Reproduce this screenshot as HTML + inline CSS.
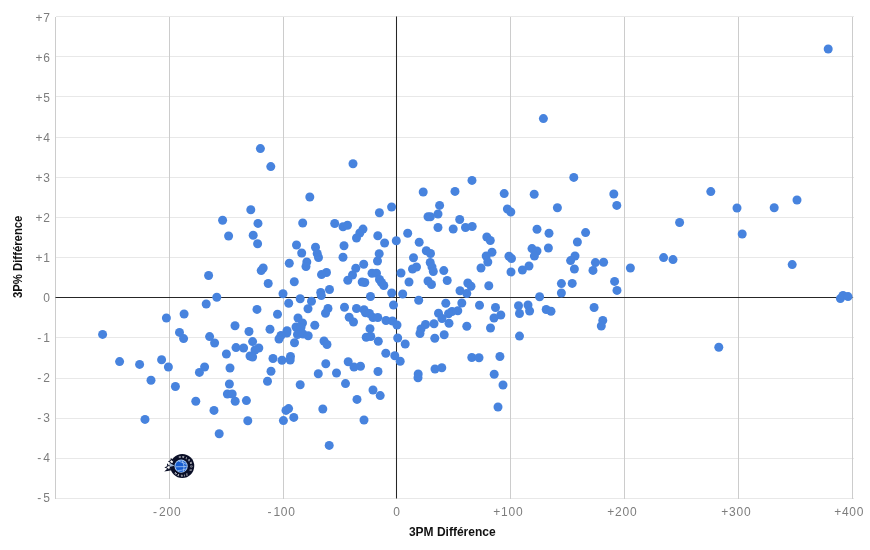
<!DOCTYPE html>
<html lang="fr"><head><meta charset="utf-8"><title>3PM Différence / 3P% Différence</title>
<style>html,body{margin:0;padding:0;background:#fff;}body{width:870px;height:550px;overflow:hidden;font-family:"Liberation Sans",sans-serif;}svg{display:block;}.tick{font-family:"Liberation Sans",sans-serif;font-size:12px;fill:#7d7d7d;}.ttl{font-family:"Liberation Sans",sans-serif;font-size:12px;font-weight:bold;fill:#111;}.lg{font-family:"Liberation Sans",sans-serif;font-weight:bold;fill:#fff;}</style></head><body>
<svg width="870" height="550" viewBox="0 0 870 550">
<rect width="870" height="550" fill="#fff"/>
<g stroke="#e8e8e8" stroke-width="1" shape-rendering="crispEdges">
<line x1="55.5" y1="498.5" x2="853.5" y2="498.5"/>
<line x1="55.5" y1="458.5" x2="853.5" y2="458.5"/>
<line x1="55.5" y1="418.5" x2="853.5" y2="418.5"/>
<line x1="55.5" y1="378.5" x2="853.5" y2="378.5"/>
<line x1="55.5" y1="337.5" x2="853.5" y2="337.5"/>
<line x1="55.5" y1="297.5" x2="853.5" y2="297.5"/>
<line x1="55.5" y1="257.5" x2="853.5" y2="257.5"/>
<line x1="55.5" y1="217.5" x2="853.5" y2="217.5"/>
<line x1="55.5" y1="177.5" x2="853.5" y2="177.5"/>
<line x1="55.5" y1="137.5" x2="853.5" y2="137.5"/>
<line x1="55.5" y1="96.5" x2="853.5" y2="96.5"/>
<line x1="55.5" y1="56.5" x2="853.5" y2="56.5"/>
<line x1="55.5" y1="16.5" x2="853.5" y2="16.5"/>
</g>
<g stroke="#cccccc" stroke-width="1" shape-rendering="crispEdges">
<line x1="169.5" y1="16.5" x2="169.5" y2="498.5"/>
<line x1="283.5" y1="16.5" x2="283.5" y2="498.5"/>
<line x1="510.5" y1="16.5" x2="510.5" y2="498.5"/>
<line x1="624.5" y1="16.5" x2="624.5" y2="498.5"/>
<line x1="738.5" y1="16.5" x2="738.5" y2="498.5"/>
<line x1="852.5" y1="16.5" x2="852.5" y2="498.5"/>
<line x1="55.5" y1="16.5" x2="55.5" y2="498.5"/>
</g>
<g stroke="#262626" stroke-width="1.05">
<line x1="55.5" y1="297.5" x2="852.5" y2="297.5"/>
<line x1="396.5" y1="16.5" x2="396.5" y2="498.5"/>
</g>
<g class="tick" text-anchor="end" style="letter-spacing:0.75px">
<text x="50.7" y="501.8">-<tspan dx="1.3">5</tspan></text>
<text x="50.7" y="461.8">-<tspan dx="1.3">4</tspan></text>
<text x="50.7" y="421.8">-<tspan dx="1.3">3</tspan></text>
<text x="50.7" y="381.8">-<tspan dx="1.3">2</tspan></text>
<text x="50.7" y="341.8">-<tspan dx="1.3">1</tspan></text>
<text x="50.7" y="301.8">0</text>
<text x="50.7" y="261.8">+1</text>
<text x="50.7" y="221.8">+2</text>
<text x="50.7" y="181.8">+3</text>
<text x="50.7" y="141.8">+4</text>
<text x="50.7" y="101.8">+5</text>
<text x="50.7" y="61.8">+6</text>
<text x="50.7" y="21.8">+7</text>
</g>
<g class="tick" style="letter-spacing:0.75px">
<text x="493.3" y="516">+100</text>
<text x="607.3" y="516">+200</text>
<text x="721.3" y="516">+300</text>
<text x="834.2" y="516">+400</text>
<text x="153.0" y="516">-<tspan dx="1.3">200</tspan></text>
<text x="267.4" y="516">-<tspan dx="1.3">100</tspan></text>
<text x="393.2" y="516">0</text>
</g>
<text class="ttl" text-anchor="middle" x="452.3" y="535.5">3PM Différence</text>
<text class="ttl" transform="translate(22.2,298) rotate(-90)" textLength="82.4" lengthAdjust="spacingAndGlyphs">3P% Différence</text>
<g fill="#4783de">
<circle cx="260.4" cy="148.6" r="4.50"/>
<circle cx="270.8" cy="166.6" r="4.50"/>
<circle cx="309.8" cy="197.0" r="4.50"/>
<circle cx="250.8" cy="209.8" r="4.50"/>
<circle cx="222.6" cy="220.3" r="4.50"/>
<circle cx="353.0" cy="163.8" r="4.50"/>
<circle cx="472.0" cy="180.4" r="4.50"/>
<circle cx="423.2" cy="192.0" r="4.50"/>
<circle cx="455.0" cy="191.4" r="4.50"/>
<circle cx="504.2" cy="193.6" r="4.50"/>
<circle cx="391.6" cy="207.0" r="4.50"/>
<circle cx="379.4" cy="212.8" r="4.50"/>
<circle cx="439.6" cy="205.4" r="4.50"/>
<circle cx="438.0" cy="214.0" r="4.50"/>
<circle cx="428.0" cy="216.7" r="4.50"/>
<circle cx="430.4" cy="216.7" r="4.50"/>
<circle cx="459.7" cy="219.5" r="4.50"/>
<circle cx="507.4" cy="209.0" r="4.50"/>
<circle cx="510.8" cy="212.0" r="4.50"/>
<circle cx="543.4" cy="118.6" r="4.50"/>
<circle cx="573.8" cy="177.4" r="4.50"/>
<circle cx="534.2" cy="194.2" r="4.50"/>
<circle cx="613.8" cy="194.0" r="4.50"/>
<circle cx="557.4" cy="207.8" r="4.50"/>
<circle cx="616.8" cy="205.4" r="4.50"/>
<circle cx="679.6" cy="222.5" r="4.50"/>
<circle cx="710.8" cy="191.6" r="4.50"/>
<circle cx="737.0" cy="208.0" r="4.50"/>
<circle cx="774.2" cy="207.8" r="4.50"/>
<circle cx="797.0" cy="200.0" r="4.50"/>
<circle cx="828.2" cy="49.0" r="4.50"/>
<circle cx="258.0" cy="223.4" r="4.50"/>
<circle cx="228.6" cy="236.0" r="4.50"/>
<circle cx="253.2" cy="235.2" r="4.50"/>
<circle cx="257.6" cy="243.8" r="4.50"/>
<circle cx="208.6" cy="275.5" r="4.50"/>
<circle cx="216.8" cy="297.3" r="4.50"/>
<circle cx="206.2" cy="304.0" r="4.50"/>
<circle cx="257.0" cy="309.4" r="4.50"/>
<circle cx="184.1" cy="314.0" r="4.50"/>
<circle cx="235.0" cy="325.8" r="4.50"/>
<circle cx="249.0" cy="331.5" r="4.50"/>
<circle cx="179.5" cy="332.4" r="4.50"/>
<circle cx="263.2" cy="268.0" r="4.50"/>
<circle cx="261.2" cy="270.6" r="4.50"/>
<circle cx="302.7" cy="223.0" r="4.50"/>
<circle cx="334.7" cy="223.5" r="4.50"/>
<circle cx="343.0" cy="226.8" r="4.50"/>
<circle cx="347.5" cy="225.3" r="4.50"/>
<circle cx="296.5" cy="245.0" r="4.50"/>
<circle cx="301.7" cy="253.0" r="4.50"/>
<circle cx="315.5" cy="247.2" r="4.50"/>
<circle cx="317.2" cy="253.5" r="4.50"/>
<circle cx="318.5" cy="257.5" r="4.50"/>
<circle cx="344.0" cy="245.8" r="4.50"/>
<circle cx="343.0" cy="257.3" r="4.50"/>
<circle cx="289.3" cy="263.3" r="4.50"/>
<circle cx="306.8" cy="262.0" r="4.50"/>
<circle cx="306.0" cy="266.5" r="4.50"/>
<circle cx="326.5" cy="272.5" r="4.50"/>
<circle cx="321.5" cy="274.6" r="4.50"/>
<circle cx="363.0" cy="229.1" r="4.50"/>
<circle cx="359.8" cy="233.0" r="4.50"/>
<circle cx="356.5" cy="238.0" r="4.50"/>
<circle cx="377.8" cy="235.7" r="4.50"/>
<circle cx="384.6" cy="243.0" r="4.50"/>
<circle cx="396.3" cy="240.7" r="4.50"/>
<circle cx="407.7" cy="233.2" r="4.50"/>
<circle cx="419.2" cy="242.2" r="4.50"/>
<circle cx="426.3" cy="250.8" r="4.50"/>
<circle cx="430.5" cy="253.5" r="4.50"/>
<circle cx="413.5" cy="257.7" r="4.50"/>
<circle cx="379.2" cy="253.7" r="4.50"/>
<circle cx="377.5" cy="261.0" r="4.50"/>
<circle cx="363.7" cy="264.3" r="4.50"/>
<circle cx="355.8" cy="268.3" r="4.50"/>
<circle cx="352.5" cy="275.0" r="4.50"/>
<circle cx="372.0" cy="273.3" r="4.50"/>
<circle cx="376.5" cy="273.2" r="4.50"/>
<circle cx="401.0" cy="273.0" r="4.50"/>
<circle cx="416.5" cy="267.0" r="4.50"/>
<circle cx="412.5" cy="269.0" r="4.50"/>
<circle cx="430.2" cy="262.5" r="4.50"/>
<circle cx="432.0" cy="267.0" r="4.50"/>
<circle cx="433.3" cy="271.5" r="4.50"/>
<circle cx="438.0" cy="227.5" r="4.50"/>
<circle cx="453.2" cy="229.0" r="4.50"/>
<circle cx="465.5" cy="227.5" r="4.50"/>
<circle cx="472.2" cy="226.5" r="4.50"/>
<circle cx="486.8" cy="237.0" r="4.50"/>
<circle cx="490.3" cy="240.5" r="4.50"/>
<circle cx="492.0" cy="252.3" r="4.50"/>
<circle cx="486.2" cy="256.0" r="4.50"/>
<circle cx="487.8" cy="262.0" r="4.50"/>
<circle cx="481.0" cy="268.0" r="4.50"/>
<circle cx="509.0" cy="256.3" r="4.50"/>
<circle cx="511.5" cy="258.5" r="4.50"/>
<circle cx="511.0" cy="272.0" r="4.50"/>
<circle cx="522.4" cy="270.0" r="4.50"/>
<circle cx="443.8" cy="270.6" r="4.50"/>
<circle cx="268.2" cy="283.5" r="4.50"/>
<circle cx="294.3" cy="281.8" r="4.50"/>
<circle cx="347.8" cy="280.2" r="4.50"/>
<circle cx="329.5" cy="289.5" r="4.50"/>
<circle cx="320.7" cy="292.5" r="4.50"/>
<circle cx="321.3" cy="295.5" r="4.50"/>
<circle cx="283.0" cy="293.7" r="4.50"/>
<circle cx="300.2" cy="298.8" r="4.50"/>
<circle cx="311.5" cy="301.2" r="4.50"/>
<circle cx="288.7" cy="303.2" r="4.50"/>
<circle cx="308.0" cy="308.7" r="4.50"/>
<circle cx="328.0" cy="308.5" r="4.50"/>
<circle cx="325.5" cy="313.3" r="4.50"/>
<circle cx="344.5" cy="307.2" r="4.50"/>
<circle cx="277.5" cy="314.3" r="4.50"/>
<circle cx="298.0" cy="318.0" r="4.50"/>
<circle cx="302.5" cy="323.0" r="4.50"/>
<circle cx="296.0" cy="327.0" r="4.50"/>
<circle cx="301.0" cy="327.5" r="4.50"/>
<circle cx="314.8" cy="325.3" r="4.50"/>
<circle cx="270.0" cy="329.3" r="4.50"/>
<circle cx="287.0" cy="330.7" r="4.50"/>
<circle cx="349.2" cy="317.3" r="4.50"/>
<circle cx="362.2" cy="282.0" r="4.50"/>
<circle cx="364.8" cy="282.5" r="4.50"/>
<circle cx="379.5" cy="279.5" r="4.50"/>
<circle cx="381.5" cy="282.5" r="4.50"/>
<circle cx="383.8" cy="285.5" r="4.50"/>
<circle cx="409.0" cy="282.0" r="4.50"/>
<circle cx="428.0" cy="281.0" r="4.50"/>
<circle cx="431.5" cy="284.5" r="4.50"/>
<circle cx="391.7" cy="293.0" r="4.50"/>
<circle cx="402.7" cy="294.0" r="4.50"/>
<circle cx="370.5" cy="296.5" r="4.50"/>
<circle cx="418.7" cy="300.3" r="4.50"/>
<circle cx="393.5" cy="305.0" r="4.50"/>
<circle cx="356.5" cy="308.5" r="4.50"/>
<circle cx="364.0" cy="309.8" r="4.50"/>
<circle cx="365.5" cy="312.8" r="4.50"/>
<circle cx="369.5" cy="313.5" r="4.50"/>
<circle cx="373.0" cy="317.5" r="4.50"/>
<circle cx="377.8" cy="317.5" r="4.50"/>
<circle cx="386.0" cy="320.5" r="4.50"/>
<circle cx="392.5" cy="321.0" r="4.50"/>
<circle cx="397.0" cy="325.0" r="4.50"/>
<circle cx="353.5" cy="322.0" r="4.50"/>
<circle cx="370.0" cy="328.7" r="4.50"/>
<circle cx="425.5" cy="324.5" r="4.50"/>
<circle cx="421.0" cy="329.0" r="4.50"/>
<circle cx="434.0" cy="323.7" r="4.50"/>
<circle cx="447.2" cy="280.5" r="4.50"/>
<circle cx="467.8" cy="283.0" r="4.50"/>
<circle cx="471.0" cy="286.2" r="4.50"/>
<circle cx="460.0" cy="290.7" r="4.50"/>
<circle cx="466.8" cy="293.5" r="4.50"/>
<circle cx="488.8" cy="285.8" r="4.50"/>
<circle cx="445.8" cy="303.3" r="4.50"/>
<circle cx="461.8" cy="303.0" r="4.50"/>
<circle cx="479.5" cy="305.2" r="4.50"/>
<circle cx="495.5" cy="307.5" r="4.50"/>
<circle cx="500.8" cy="315.0" r="4.50"/>
<circle cx="494.0" cy="318.0" r="4.50"/>
<circle cx="518.5" cy="305.7" r="4.50"/>
<circle cx="519.5" cy="313.5" r="4.50"/>
<circle cx="457.8" cy="310.8" r="4.50"/>
<circle cx="452.0" cy="311.5" r="4.50"/>
<circle cx="448.5" cy="313.8" r="4.50"/>
<circle cx="438.5" cy="313.3" r="4.50"/>
<circle cx="442.0" cy="318.5" r="4.50"/>
<circle cx="449.0" cy="323.3" r="4.50"/>
<circle cx="466.8" cy="326.2" r="4.50"/>
<circle cx="490.5" cy="328.0" r="4.50"/>
<circle cx="286.8" cy="333.0" r="4.50"/>
<circle cx="281.0" cy="335.5" r="4.50"/>
<circle cx="279.0" cy="339.0" r="4.50"/>
<circle cx="297.5" cy="334.5" r="4.50"/>
<circle cx="303.0" cy="334.0" r="4.50"/>
<circle cx="308.2" cy="335.8" r="4.50"/>
<circle cx="294.5" cy="342.7" r="4.50"/>
<circle cx="324.0" cy="341.0" r="4.50"/>
<circle cx="327.0" cy="344.5" r="4.50"/>
<circle cx="273.0" cy="358.5" r="4.50"/>
<circle cx="282.0" cy="360.3" r="4.50"/>
<circle cx="290.5" cy="356.5" r="4.50"/>
<circle cx="290.2" cy="360.0" r="4.50"/>
<circle cx="325.8" cy="363.7" r="4.50"/>
<circle cx="271.0" cy="371.3" r="4.50"/>
<circle cx="318.3" cy="373.7" r="4.50"/>
<circle cx="336.5" cy="373.0" r="4.50"/>
<circle cx="267.5" cy="381.3" r="4.50"/>
<circle cx="300.2" cy="384.8" r="4.50"/>
<circle cx="345.5" cy="383.6" r="4.50"/>
<circle cx="366.2" cy="337.2" r="4.50"/>
<circle cx="370.8" cy="336.5" r="4.50"/>
<circle cx="378.3" cy="341.2" r="4.50"/>
<circle cx="397.7" cy="338.0" r="4.50"/>
<circle cx="405.2" cy="344.0" r="4.50"/>
<circle cx="420.0" cy="333.5" r="4.50"/>
<circle cx="434.8" cy="338.2" r="4.50"/>
<circle cx="385.8" cy="353.2" r="4.50"/>
<circle cx="394.8" cy="355.8" r="4.50"/>
<circle cx="400.2" cy="361.3" r="4.50"/>
<circle cx="348.2" cy="361.7" r="4.50"/>
<circle cx="354.0" cy="367.0" r="4.50"/>
<circle cx="360.5" cy="366.2" r="4.50"/>
<circle cx="378.0" cy="371.5" r="4.50"/>
<circle cx="418.2" cy="374.0" r="4.50"/>
<circle cx="418.0" cy="377.8" r="4.50"/>
<circle cx="435.0" cy="369.0" r="4.50"/>
<circle cx="444.2" cy="334.7" r="4.50"/>
<circle cx="519.5" cy="336.1" r="4.50"/>
<circle cx="471.8" cy="357.5" r="4.50"/>
<circle cx="479.0" cy="357.7" r="4.50"/>
<circle cx="499.9" cy="356.5" r="4.50"/>
<circle cx="441.8" cy="367.7" r="4.50"/>
<circle cx="494.2" cy="374.3" r="4.50"/>
<circle cx="503.0" cy="385.0" r="4.50"/>
<circle cx="373.0" cy="390.0" r="4.50"/>
<circle cx="380.2" cy="395.6" r="4.50"/>
<circle cx="357.0" cy="399.4" r="4.50"/>
<circle cx="322.8" cy="409.0" r="4.50"/>
<circle cx="288.6" cy="408.6" r="4.50"/>
<circle cx="286.0" cy="410.4" r="4.50"/>
<circle cx="293.8" cy="417.4" r="4.50"/>
<circle cx="283.4" cy="420.6" r="4.50"/>
<circle cx="364.0" cy="420.0" r="4.50"/>
<circle cx="329.2" cy="445.4" r="4.50"/>
<circle cx="498.0" cy="407.0" r="4.50"/>
<circle cx="166.4" cy="318.0" r="4.50"/>
<circle cx="102.6" cy="334.4" r="4.50"/>
<circle cx="183.6" cy="338.6" r="4.50"/>
<circle cx="209.6" cy="336.6" r="4.50"/>
<circle cx="214.6" cy="343.0" r="4.50"/>
<circle cx="252.6" cy="341.6" r="4.50"/>
<circle cx="236.0" cy="347.6" r="4.50"/>
<circle cx="243.6" cy="348.0" r="4.50"/>
<circle cx="258.8" cy="348.0" r="4.50"/>
<circle cx="255.0" cy="350.0" r="4.50"/>
<circle cx="226.4" cy="354.0" r="4.50"/>
<circle cx="250.0" cy="356.0" r="4.50"/>
<circle cx="252.6" cy="357.0" r="4.50"/>
<circle cx="119.6" cy="361.6" r="4.50"/>
<circle cx="139.6" cy="364.4" r="4.50"/>
<circle cx="161.6" cy="359.8" r="4.50"/>
<circle cx="168.4" cy="367.0" r="4.50"/>
<circle cx="204.6" cy="367.0" r="4.50"/>
<circle cx="199.4" cy="372.4" r="4.50"/>
<circle cx="230.0" cy="368.0" r="4.50"/>
<circle cx="151.0" cy="380.2" r="4.50"/>
<circle cx="175.4" cy="386.5" r="4.50"/>
<circle cx="229.4" cy="384.0" r="4.50"/>
<circle cx="227.4" cy="394.0" r="4.50"/>
<circle cx="232.2" cy="394.0" r="4.50"/>
<circle cx="195.8" cy="401.2" r="4.50"/>
<circle cx="235.2" cy="401.2" r="4.50"/>
<circle cx="246.4" cy="400.6" r="4.50"/>
<circle cx="214.0" cy="410.4" r="4.50"/>
<circle cx="145.0" cy="419.4" r="4.50"/>
<circle cx="247.8" cy="420.8" r="4.50"/>
<circle cx="219.2" cy="433.8" r="4.50"/>
<circle cx="537.0" cy="229.2" r="4.50"/>
<circle cx="549.0" cy="233.2" r="4.50"/>
<circle cx="585.6" cy="232.6" r="4.50"/>
<circle cx="577.4" cy="242.0" r="4.50"/>
<circle cx="548.4" cy="248.0" r="4.50"/>
<circle cx="532.0" cy="248.6" r="4.50"/>
<circle cx="537.0" cy="251.0" r="4.50"/>
<circle cx="534.4" cy="256.0" r="4.50"/>
<circle cx="575.0" cy="256.0" r="4.50"/>
<circle cx="570.6" cy="260.6" r="4.50"/>
<circle cx="574.4" cy="269.0" r="4.50"/>
<circle cx="595.4" cy="262.6" r="4.50"/>
<circle cx="603.6" cy="262.2" r="4.50"/>
<circle cx="593.0" cy="270.4" r="4.50"/>
<circle cx="529.0" cy="266.0" r="4.50"/>
<circle cx="630.4" cy="268.0" r="4.50"/>
<circle cx="663.6" cy="257.6" r="4.50"/>
<circle cx="673.0" cy="259.6" r="4.50"/>
<circle cx="561.4" cy="283.6" r="4.50"/>
<circle cx="572.2" cy="283.4" r="4.50"/>
<circle cx="614.6" cy="281.4" r="4.50"/>
<circle cx="617.0" cy="290.4" r="4.50"/>
<circle cx="561.4" cy="293.0" r="4.50"/>
<circle cx="539.6" cy="296.8" r="4.50"/>
<circle cx="528.0" cy="305.0" r="4.50"/>
<circle cx="529.6" cy="311.0" r="4.50"/>
<circle cx="546.2" cy="309.5" r="4.50"/>
<circle cx="551.0" cy="311.3" r="4.50"/>
<circle cx="594.1" cy="307.5" r="4.50"/>
<circle cx="602.8" cy="320.4" r="4.50"/>
<circle cx="601.3" cy="326.0" r="4.50"/>
<circle cx="742.2" cy="234.0" r="4.50"/>
<circle cx="792.2" cy="264.6" r="4.50"/>
<circle cx="840.4" cy="298.6" r="4.50"/>
<circle cx="843.0" cy="295.4" r="4.50"/>
<circle cx="848.0" cy="296.6" r="4.50"/>
<circle cx="718.8" cy="347.2" r="4.50"/>
</g>
<g id="magic-logo" transform="translate(182.25,466.1)">
<polygon points="-11.28,-8.24 -9.77,-6.11 -7.16,-6.23 -8.72,-4.14 -7.79,-1.69 -10.27,-2.53 -12.31,-0.89 -12.28,-3.51 -14.46,-4.94 -11.97,-5.72" fill="#0a0f27"/>
<polygon points="-15.14,-2.75 -13.15,-0.72 -10.39,-1.39 -11.70,1.13 -10.22,3.55 -13.02,3.08 -14.86,5.24 -15.28,2.43 -17.90,1.35 -15.36,0.08" fill="#0a0f27"/>
<path d="M-18,5.3 L-13.6,1.5 L-10.5,4.2 Z M-11,-5 L-7,-8.5 L-8,2 L-12.5,2 Z" fill="#0a0f27"/>
<circle r="12" fill="#0a0f27"/>
<circle cx="-1.15" cy="0.1" r="6.6" fill="#a6caf6"/>
<circle cx="-1.15" cy="0.1" r="5.7" fill="#175dd0"/>
<g fill="none" stroke="#b7d4f8" stroke-width="0.7" transform="translate(-1.15,0.1)">
<path d="M-5.6,0.6 L5.6,0.3"/>
<path d="M1.2,-5.5 Q4.2,0 2.4,5.2"/>
<path d="M-2.4,-5 Q3.2,-3.4 5.2,-1.8"/>
<path d="M-3.6,4.4 Q1.2,4.4 4.6,2.8"/>
</g>
<path d="M-12.5,-3.2 L-7.6,-0.4 L-12.2,0.6 Z" fill="#b9d3f5" opacity="0.85"/>
<polygon points="-10.96,-6.47 -10.21,-5.21 -8.75,-5.39 -9.71,-4.27 -9.09,-2.94 -10.44,-3.51 -11.52,-2.51 -11.39,-3.98 -12.68,-4.69 -11.25,-5.03" fill="#fff"/>
<polygon points="-14.45,-0.87 -13.44,0.29 -11.97,-0.15 -12.75,1.17 -11.88,2.43 -13.38,2.09 -14.31,3.31 -14.45,1.78 -15.90,1.28 -14.49,0.67" fill="#fff"/>
<defs><path id="arcTop" d="M-3.11,-7.70 A8.30,8.30 0 0 1 6.88,4.64"/><path id="arcBot" d="M-7.88,7.09 A10.60,10.60 0 0 0 6.81,8.12"/></defs>
<text class="lg" font-size="2.7" textLength="20.5" lengthAdjust="spacing"><textPath href="#arcTop" textLength="20.5" lengthAdjust="spacing">ORLANDO</textPath></text>
<text class="lg" font-size="2.7" textLength="15" lengthAdjust="spacing"><textPath href="#arcBot" textLength="15" lengthAdjust="spacing">MAGIC</textPath></text>
</g>

</svg></body></html>
